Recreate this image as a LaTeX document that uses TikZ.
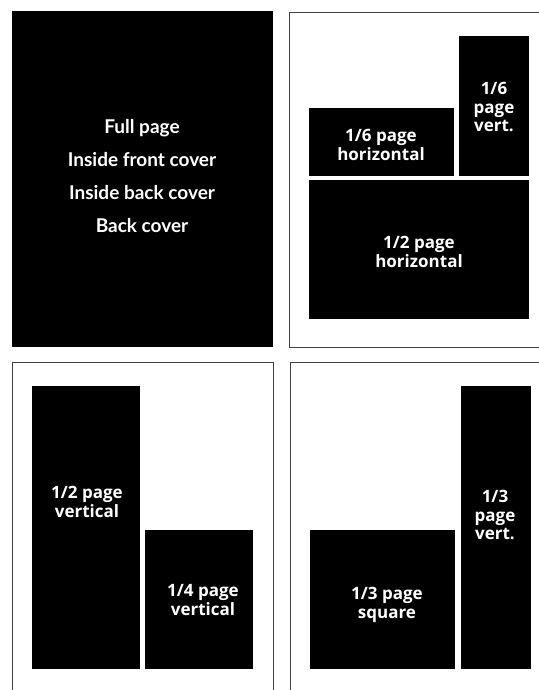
\documentclass[tikz,border=0pt]{standalone}
\usepackage{fontspec}
\setmainfont{Open Sans}
\newfontfamily\covfont{Lato}
\begin{document}
\begin{tikzpicture}[x=1pt,y=-1pt,
  blk/.style={fill=black,draw=none},
  frm/.style={draw=black!75,line width=0.9pt},
  lab/.style={text=white,align=center,font=\bfseries\fontsize{17}{18.5}\selectfont,inner sep=0pt},
  covlab/.style={text=white,align=center,font=\covfont\bfseries\fontsize{19}{33}\selectfont,inner sep=0pt}]
\useasboundingbox (0,0) rectangle (538,690);
% top-left
\fill[blk] (12,11) rectangle (273,347);
\node[covlab] (full) at (142,176) {Full page\\Inside front cover\\Inside back cover\\Back cover};
% top-right
\draw[frm] (545,12) -- (289,12) -- (289,347) -- (545,347);
\fill[blk] (459,36) rectangle (529,176);
\fill[blk] (309,108) rectangle (454,176);
\fill[blk] (309,180) rectangle (529,319);
\node[lab] (sixv) at (494,107) {1/6\\page\\vert.};
\node[lab] (sixh) at (381,145) {1/6 page\\horizontal};
\node[lab] (halfh) at (419,252) {1/2 page\\horizontal};
% bottom-left
\draw[frm] (12,700) -- (12,362) -- (273,362) -- (273,700);
\fill[blk] (32,386) rectangle (140,669);
\fill[blk] (145,530) rectangle (253,669);
\node[lab] (halfv) at (87,502) {1/2 page\\vertical};
\node[lab] (quarv) at (203,600) {1/4 page\\vertical};
% bottom-right
\draw[frm] (290,700) -- (290,362) -- (545,362);
\fill[blk] (310,530) rectangle (455,669);
\fill[blk] (461,386) rectangle (531,669);
\node[lab] (thsq) at (387,605) {1/3 page\\square};
\node[lab] (thv) at (495,515) {1/3\\page\\vert.};
\end{tikzpicture}
\end{document}
